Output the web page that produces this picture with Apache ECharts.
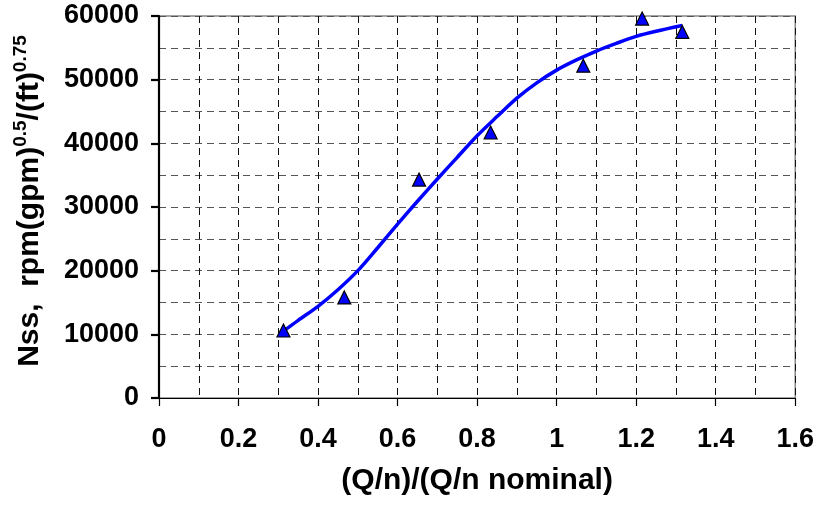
<!DOCTYPE html>
<html>
<head>
<meta charset="utf-8">
<script src="https://cdn.jsdelivr.net/npm/echarts@6/dist/echarts.min.js"></script>
<style>
html,body{margin:0;padding:0;background:#fff;}
#c{width:817px;height:508px;}
</style>
</head>
<body>
<div id="c"></div>
<script>
// Measured data points (Q/n ratio, Nss)
const pointX = [0.313, 0.466, 0.654, 0.834, 1.067, 1.215, 1.316];
const pointY = [10600, 15800, 34300, 41700, 52200, 59600, 57500];
// Trend curve
const curveX = [0.313, 0.35, 0.40, 0.45, 0.50, 0.55, 0.60, 0.65, 0.70, 0.75, 0.80, 0.85, 0.90, 0.95, 1.00, 1.05, 1.10, 1.15, 1.20, 1.25, 1.316];
const curveY = [10500, 12200, 14400, 17000, 20000, 23600, 27300, 30900, 34400, 37800, 41200, 44200, 47100, 49500, 51500, 53100, 54500, 55700, 56800, 57600, 58500];
// Axes
const xTicks = [0, 0.2, 0.4, 0.6, 0.8, 1, 1.2, 1.4, 1.6];
const yTicks = [0, 10000, 20000, 30000, 40000, 50000, 60000];
const xTitle = '(Q/n)/(Q/n nominal)';
const yTitleParts = ['Nss,  rpm(gpm)', '0.5', '/(ft)', '0.75'];

const FONT = '"Liberation Sans", Arial, sans-serif';
const chart = echarts.init(document.getElementById('c'), null, {renderer: 'canvas'});

const points = pointX.map((x, i) => [x, pointY[i]]);
const curve = curveX.map((x, i) => [x, curveY[i]]);

chart.setOption({
  animation: false,
  backgroundColor: '#fff',
  grid: {left: 159, right: 21, top: 16, bottom: 110, show: true, borderColor: '#888', borderWidth: 1.5},
  xAxis: {
    type: 'value',
    min: xTicks[0], max: xTicks[xTicks.length - 1], interval: 0.2,
    name: xTitle,
    nameLocation: 'middle',
    nameGap: 68,
    nameTextStyle: {fontFamily: FONT, fontWeight: 'bold', fontSize: 30, color: '#000'},
    axisLine: {show: true, lineStyle: {color: '#000', width: 1.2}},
    axisTick: {show: true, length: 8, lineStyle: {color: '#000', width: 1.2}},
    axisLabel: {fontFamily: FONT, fontWeight: 'bold', fontSize: 27, color: '#000', margin: 28,
      formatter: v => String(Math.round(v * 10) / 10)},
    splitLine: {show: true, lineStyle: {color: '#111', width: 1, type: [7, 5]}},
    minorTick: {show: false, splitNumber: 2},
    minorSplitLine: {show: true, lineStyle: {color: '#111', width: 1, type: [7, 5]}}
  },
  yAxis: {
    type: 'value',
    min: yTicks[0], max: yTicks[yTicks.length - 1], interval: 10000,
    name: '{m|' + yTitleParts[0] + '}{s|' + yTitleParts[1] + '}{m|' + yTitleParts[2] + '}{s|' + yTitleParts[3] + '}',
    nameLocation: 'middle',
    nameRotate: 90,
    nameGap: 110,
    nameTextStyle: {
      fontFamily: FONT, fontWeight: 'bold', fontSize: 30, color: '#000',
      padding: [0, 0, 0, 12],
      rich: {
        m: {fontFamily: FONT, fontWeight: 'bold', fontSize: 30, color: '#000', lineHeight: 38},
        s: {fontFamily: FONT, fontWeight: 'bold', fontSize: 19, color: '#000', verticalAlign: 'top', lineHeight: 19}
      }
    },
    axisLine: {show: true, lineStyle: {color: '#000', width: 2.2}},
    axisTick: {show: true, length: 8, lineStyle: {color: '#000', width: 2.2}},
    axisLabel: {fontFamily: FONT, fontWeight: 'bold', fontSize: 27, color: '#000', margin: 20,
      formatter: v => String(v)},
    splitLine: {show: true, lineStyle: {color: '#555', width: 1, type: [7, 5]}},
    minorTick: {show: false, splitNumber: 2},
    minorSplitLine: {show: true, lineStyle: {color: '#555', width: 1, type: [7, 5]}}
  },
  series: [
    {
      type: 'line',
      data: curve,
      smooth: 0.3,
      showSymbol: false,
      symbol: 'none',
      lineStyle: {color: '#0000FF', width: 3.5},
      z: 3
    },
    {
      type: 'scatter',
      data: points,
      symbol: 'triangle',
      symbolSize: 13,
      itemStyle: {color: '#0000FF', borderColor: '#000', borderWidth: 1.2, opacity: 1},
      z: 4
    }
  ]
});
</script>
</body>
</html>
